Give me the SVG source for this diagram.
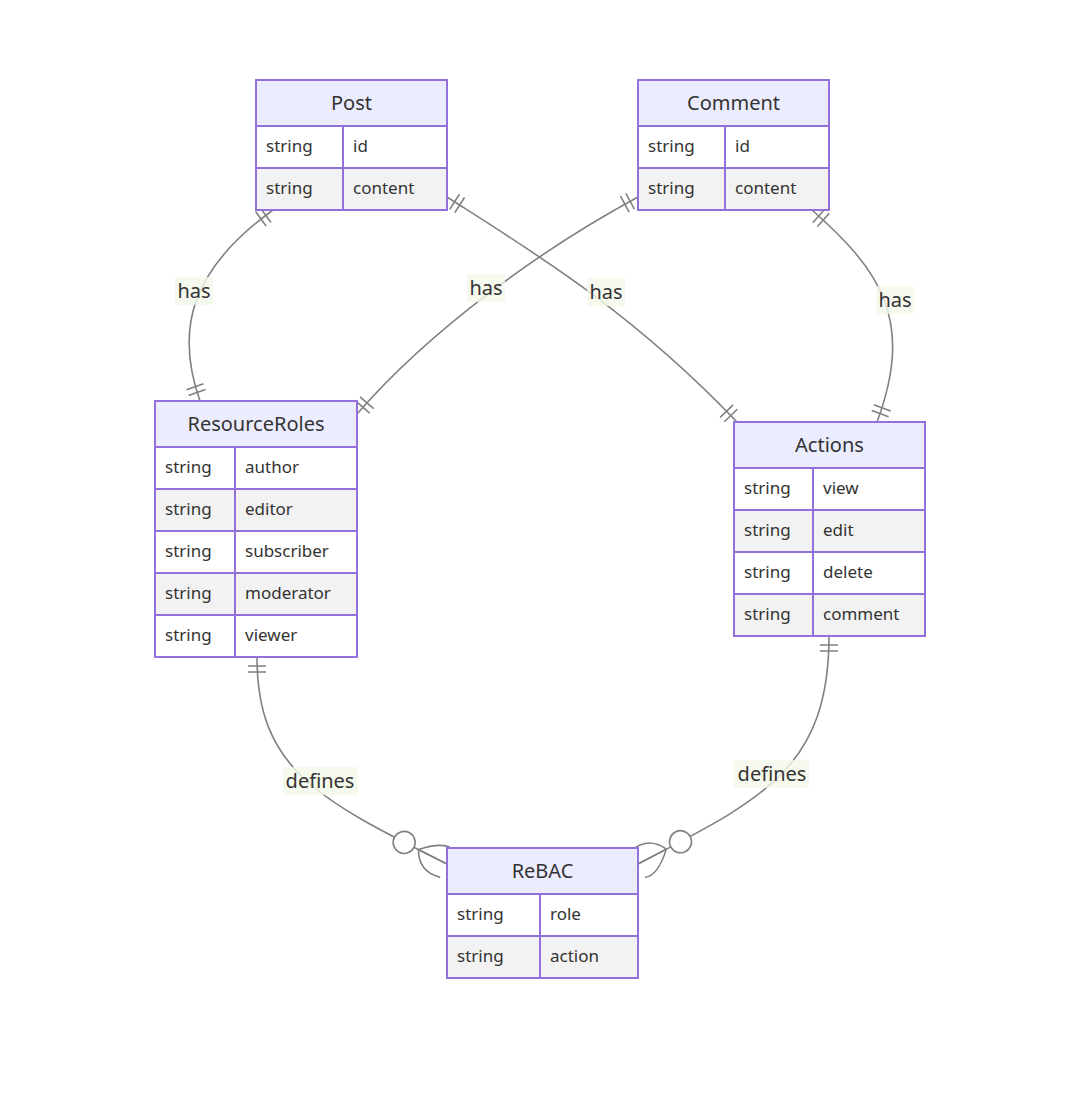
<svg xmlns="http://www.w3.org/2000/svg" width="1068" height="1108" viewBox="0 0 1068 1108">
<style>
.h{fill:#ECECFF;stroke:#9370DB;stroke-width:2}
.o{fill:#ffffff;stroke:#9370DB;stroke-width:2}
.e{fill:#f2f2f2;stroke:#9370DB;stroke-width:2}
.t{font-family:"Noto Sans","Open Sans","DejaVu Sans",sans-serif;font-size:20px;fill:#333;text-anchor:middle}
.a{font-family:"Noto Sans","Open Sans","DejaVu Sans",sans-serif;font-size:17px;fill:#333}
.l{font-family:"Noto Sans","Open Sans","DejaVu Sans",sans-serif;font-size:20px;fill:#333;text-anchor:middle}
.lb{fill:#f4f8ea;opacity:0.8}
.c{fill:none;stroke:#808080;stroke-width:1.6}
</style>
<defs>
<marker id="one" markerUnits="userSpaceOnUse" markerWidth="20" markerHeight="20" refX="18" refY="9" orient="auto-start-reverse" overflow="visible">
<path d="M3,0 L3,18 M9,0 L9,18" fill="none" stroke="#808080" stroke-width="1.6"/>
</marker>
<marker id="many" markerUnits="userSpaceOnUse" markerWidth="60" markerHeight="36" refX="57" refY="18" orient="auto" overflow="visible">
<circle cx="9" cy="18" r="11" fill="#fff" stroke="#808080" stroke-width="1.6"/>
<path d="M25,18 Q45,-2 57,3 M25,18 L57,18 M25,18 Q35,38 57,33" fill="none" stroke="#808080" stroke-width="1.6"/>
</marker>
</defs>
<rect width="1068" height="1108" fill="#fff"/>
<g id="connectors">
<path class="c" d="M273,210 C190,270 175,330 200,401" marker-start="url(#one)" marker-end="url(#one)"/>
<path class="c" d="M447,197 C530,250 630,310 737,422" marker-start="url(#one)" marker-end="url(#one)"/>
<path class="c" d="M638,197 C540,250 430,330 357,414" marker-start="url(#one)" marker-end="url(#one)"/>
<path class="c" d="M812,210 C880,270 915,320 877,422" marker-start="url(#one)" marker-end="url(#one)"/>
<path class="c" d="M257,657 C257,770 320,800 447,864" marker-start="url(#one)" marker-end="url(#many)"/>
<path class="c" d="M829,636 C829,770 760,800 638,864" marker-start="url(#one)" marker-end="url(#many)"/>
<rect class="lb" x="175" y="277" width="38" height="28"/><text class="l" x="194" y="298">has</text>
<rect class="lb" x="467" y="274" width="38" height="28"/><text class="l" x="486" y="295">has</text>
<rect class="lb" x="587" y="278" width="38" height="28"/><text class="l" x="606" y="299">has</text>
<rect class="lb" x="876" y="286" width="38" height="28"/><text class="l" x="895" y="307">has</text>
<rect class="lb" x="283" y="767" width="75" height="28"/><text class="l" x="320" y="788">defines</text>
<rect class="lb" x="734" y="760" width="75" height="28"/><text class="l" x="772" y="781">defines</text>
</g>
<g id="Post">
<rect class="h" x="256" y="80" width="191" height="46"/><text class="t" x="351.5" y="110">Post</text>
<rect class="o" x="256" y="126" width="87" height="42"/><rect class="o" x="343" y="126" width="104" height="42"/>
<rect class="e" x="256" y="168" width="87" height="42"/><rect class="e" x="343" y="168" width="104" height="42"/>
<text class="a" x="266" y="152">string</text><text class="a" x="353" y="152">id</text>
<text class="a" x="266" y="194">string</text><text class="a" x="353" y="194">content</text>
</g>
<g id="Comment">
<rect class="h" x="638" y="80" width="191" height="46"/><text class="t" x="733.5" y="110">Comment</text>
<rect class="o" x="638" y="126" width="87" height="42"/><rect class="o" x="725" y="126" width="104" height="42"/>
<rect class="e" x="638" y="168" width="87" height="42"/><rect class="e" x="725" y="168" width="104" height="42"/>
<text class="a" x="648" y="152">string</text><text class="a" x="735" y="152">id</text>
<text class="a" x="648" y="194">string</text><text class="a" x="735" y="194">content</text>
</g>
<g id="ResourceRoles">
<rect class="h" x="155" y="401" width="202" height="46"/><text class="t" x="256" y="431">ResourceRoles</text>
<rect class="o" x="155" y="447" width="80" height="42"/><rect class="o" x="235" y="447" width="122" height="42"/>
<rect class="e" x="155" y="489" width="80" height="42"/><rect class="e" x="235" y="489" width="122" height="42"/>
<rect class="o" x="155" y="531" width="80" height="42"/><rect class="o" x="235" y="531" width="122" height="42"/>
<rect class="e" x="155" y="573" width="80" height="42"/><rect class="e" x="235" y="573" width="122" height="42"/>
<rect class="o" x="155" y="615" width="80" height="42"/><rect class="o" x="235" y="615" width="122" height="42"/>
<text class="a" x="165" y="473">string</text><text class="a" x="245" y="473">author</text>
<text class="a" x="165" y="515">string</text><text class="a" x="245" y="515">editor</text>
<text class="a" x="165" y="557">string</text><text class="a" x="245" y="557">subscriber</text>
<text class="a" x="165" y="599">string</text><text class="a" x="245" y="599">moderator</text>
<text class="a" x="165" y="641">string</text><text class="a" x="245" y="641">viewer</text>
</g>
<g id="Actions">
<rect class="h" x="734" y="422" width="191" height="46"/><text class="t" x="829.5" y="452">Actions</text>
<rect class="o" x="734" y="468" width="79" height="42"/><rect class="o" x="813" y="468" width="112" height="42"/>
<rect class="e" x="734" y="510" width="79" height="42"/><rect class="e" x="813" y="510" width="112" height="42"/>
<rect class="o" x="734" y="552" width="79" height="42"/><rect class="o" x="813" y="552" width="112" height="42"/>
<rect class="e" x="734" y="594" width="79" height="42"/><rect class="e" x="813" y="594" width="112" height="42"/>
<text class="a" x="744" y="494">string</text><text class="a" x="823" y="494">view</text>
<text class="a" x="744" y="536">string</text><text class="a" x="823" y="536">edit</text>
<text class="a" x="744" y="578">string</text><text class="a" x="823" y="578">delete</text>
<text class="a" x="744" y="620">string</text><text class="a" x="823" y="620">comment</text>
</g>
<g id="ReBAC">
<rect class="h" x="447" y="848" width="191" height="46"/><text class="t" x="542.5" y="878">ReBAC</text>
<rect class="o" x="447" y="894" width="93" height="42"/><rect class="o" x="540" y="894" width="98" height="42"/>
<rect class="e" x="447" y="936" width="93" height="42"/><rect class="e" x="540" y="936" width="98" height="42"/>
<text class="a" x="457" y="920">string</text><text class="a" x="550" y="920">role</text>
<text class="a" x="457" y="962">string</text><text class="a" x="550" y="962">action</text>
</g>
</svg>
